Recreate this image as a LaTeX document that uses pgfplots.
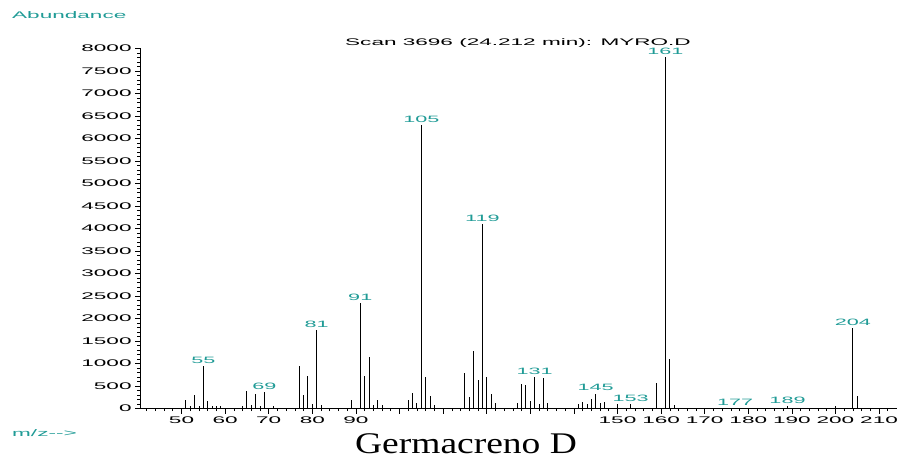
\documentclass[border=0pt]{standalone}
\usepackage{fontspec}
\usepackage{graphicx}
\usepackage{pgfplots}
\pgfplotsset{compat=1.18}
\setmainfont{Liberation Sans}
\newfontfamily\wf[FakeStretch=2.35]{Liberation Sans}
\newfontfamily\tnr{Liberation Serif}
\definecolor{teal2}{RGB}{32,155,150}
\pgfplotstableread{
x y
51 200
52 60
53 290
54 60
56 166
57 60
58 45
59 45
64 60
65 380
66 80
67 330
68 60
71 60
77 950
78 304
79 717
80 100
82 80
89 185
92 718
93 1147
94 75
95 185
96 75
102 200
103 348
104 126
106 710
107 275
108 67
115 792
116 266
117 1288
118 637
120 710
121 333
122 118
127 133
128 555
129 518
130 170
132 96
133 681
134 133
141 111
142 148
143 111
144 222
146 118
147 148
150 89
159 570
162 1103
163 74
200 45
205 273
}\minorpeaks
\pgfplotstableread{
x y lab
55 950 55
69 373 69
81 1747 81
91 2353 91
105 6300 105
119 4100 119
131 710 131
145 333 145
153 89 153
161 7800 161
177 20 177
189 50 189
204 1798 204
}\majorpeaks
\begin{document}
\begin{tikzpicture}[x=1pt,y=1pt]
\useasboundingbox (0,0) rectangle (900,461);
\begin{axis}[at={(140.1pt,52.5pt)}, anchor=south west, scale only axis,
  width=756.4pt, height=360pt,
  xmin=40.5, xmax=214, ymin=0, ymax=8000,
  axis x line=bottom, axis y line=left,
  axis line style={-, line width=0.6pt, black},
  tick align=outside,
  xtick={50,60,...,210},
  xticklabels={50,60,70,80,90,,,,,,150,160,170,180,190,200,210},
  minor xtick={42,44,...,212},
  ytick={0,500,...,8000},
  minor ytick={100,200,...,7900},
  major tick length=5pt, minor tick length=2.7pt,
  every tick/.style={black, line width=0.6pt},
  scaled ticks=false,
  /pgf/number format/1000 sep={},
  /pgf/number format/assume math mode=true,
  tick label style={font=\wf\fontsize{9.6}{10}\selectfont},
  clip=false,
]
\addplot[ycomb, black, line width=0.9pt, mark=none] table[x=x,y=y] {\minorpeaks};
\addplot[ycomb, black, line width=0.9pt, mark=none,
  point meta=explicit symbolic, nodes near coords,
  nodes near coords style={font=\wf\fontsize{9.2}{10}\selectfont, text=teal2,
    anchor=south, inner sep=0pt, yshift=2pt}]
  table[x=x,y=y,meta=lab] {\majorpeaks};
\end{axis}
\node[anchor=west, text=teal2, font=\wf\fontsize{9.6}{10}\selectfont, inner sep=0pt] at (12,446) {Abundance};
\node[anchor=west, text=teal2, font=\wf\fontsize{9.6}{10}\selectfont, inner sep=0pt] at (12,28) {m/z-{}-{}>};
\node[font=\wf\fontsize{9.6}{10}\selectfont, inner sep=0pt] at (518,418) {Scan 3696 (24.212 min): MYRO.D};
\node[anchor=base, inner sep=0pt] at (466,7.7) {\scalebox{1.25}[1]{\tnr\fontsize{30}{32}\selectfont Germacreno D}};
\end{tikzpicture}
\end{document}
